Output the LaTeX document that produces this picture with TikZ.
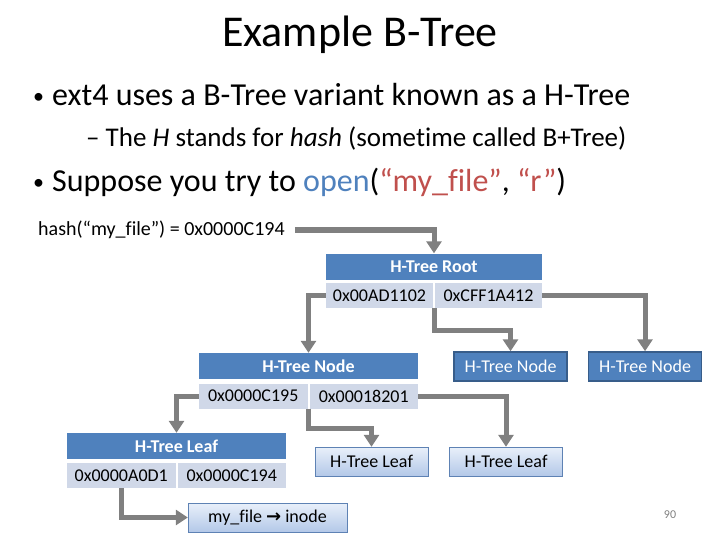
\documentclass[tikz,border=0pt]{standalone}
\usepackage{fontspec}
\setmainfont{Carlito}[Ligatures={NoCommon}]
\newfontfamily\symfont{DejaVu Sans}
\usepackage{xcolor}
\usepackage{tikz}
\usetikzlibrary{arrows.meta, positioning}

\definecolor{hblue}{HTML}{4F81BD}
\definecolor{nborder}{HTML}{385D8A}
\definecolor{cellgray}{HTML}{D0D8E8}
\definecolor{arrgray}{HTML}{808080}
\definecolor{ltop}{HTML}{E9F0FA}
\definecolor{lbot}{HTML}{B3C8E8}
\definecolor{lborder}{HTML}{5E82B4}
\definecolor{openblue}{HTML}{4F81BD}
\definecolor{strred}{HTML}{C0504D}

\newcommand{\dfont}{\fontsize{18}{21}\selectfont}
\newcommand{\bul}{\makebox[19pt][l]{\raisebox{2pt}{\fontsize{22}{24}\selectfont •}}}

\begin{document}
\begin{tikzpicture}[
      x=1pt, y=-1pt,
      hdr/.style={fill=hblue, text=white, font=\dfont\bfseries,
                  minimum height=26pt, inner sep=0pt},
      cell/.style={fill=cellgray, font=\dfont, minimum height=25pt,
                   inner sep=0pt},
      nbox/.style={draw=nborder, line width=1.5pt, fill=hblue, text=white,
                   font=\dfont, minimum width=113pt, minimum height=29pt,
                   inner sep=0pt},
      lbox/.style={draw=lborder, top color=ltop, bottom color=lbot,
                   font=\dfont, minimum width=113pt, minimum height=29pt,
                   inner sep=0pt},
      arr/.style={draw=arrgray, line width=5pt,
                  -{Triangle[length=12pt, width=15pt]}},
  ]
  \useasboundingbox (0,0) rectangle (720,540);

  %% Slide text
  \node[font=\fontsize{44}{48}\selectfont, anchor=base] (title) at (360,47) {Example B-Tree};
  \node[font=\fontsize{32}{36}\selectfont, anchor=base west, inner sep=0pt] (b1) at (33,106)
        {\bul ext4 uses a B-Tree variant known as a H-Tree};
  \node[font=\fontsize{27}{30}\selectfont, anchor=base west, inner sep=0pt] (b2) at (86,147)
        {– The \textit{H} stands for \textit{hash} (sometime called B+Tree)};
  \node[font=\fontsize{32}{36}\selectfont, anchor=base west, inner sep=0pt] (b3) at (33,192)
        {\bul Suppose you try to \textcolor{openblue}{open}(\textcolor{strred}{“my\_file”}, \textcolor{strred}{“r”})};
  \node[font=\fontsize{20}{23}\selectfont, anchor=west, inner sep=0pt] (hashtxt) at (38,230)
        {hash(“my\_file”) = 0x0000C194};

  %% Root
  \node[hdr, minimum width=216pt] (root) at (434,266.5) {H-Tree Root};
  \node[cell, minimum width=107pt] (r1) at (379.5,295.5) {0x00AD1102};
  \node[cell, minimum width=107pt] (r2) at (488.5,295.5) {0xCFF1A412};

  %% Second level
  \node[hdr, minimum width=219pt] (node) at (308.5,366) {H-Tree Node};
  \node[cell, minimum width=108.5pt] (n1) at (253.25,396) {0x0000C195};
  \node[cell, minimum width=108.5pt] (n2) at (363.75,396) {0x00018201};
  \node[nbox] (mnode) at (510.5,366.5) {H-Tree Node};
  \node[nbox] (rnode) at (645,366.5) {H-Tree Node};

  %% Leaves
  \node[hdr, minimum width=219pt] (leaf) at (176.5,446) {H-Tree Leaf};
  \node[cell, minimum width=108.5pt] (l1) at (121.25,475.5) {0x0000A0D1};
  \node[cell, minimum width=108.5pt] (l2) at (231.75,475.5) {0x0000C194};
  \node[lbox] (leaf2) at (371.5,461.5) {H-Tree Leaf};
  \node[lbox] (leaf3) at (506,461.5) {H-Tree Leaf};
  \node[lbox, minimum width=159pt] (inode) at (267.5,517.5)
        {my\_file {\symfont\bfseries →} inode};

  \node[font=\fontsize{12}{14}\selectfont, text=gray] (pnum) at (670,515) {90};

  %% Arrows
  \draw[arr, shorten <=10pt] (hashtxt.east) -| (root.north);
  \draw[arr] (r1.west) -| (node.north);
  \draw[arr] ([xshift=1pt]r1.south east) -- ++(0,22) -| (mnode.north);
  \draw[arr] (r2.east) -| (rnode.north);
  \draw[arr] (n1.west) -| (leaf.north);
  \draw[arr] ([xshift=1pt]n1.south east) -- ++(0,20) -| (leaf2.north);
  \draw[arr] (n2.east) -| (leaf3.north);
  \draw[arr] (l1.south) |- (inode.west);

\end{tikzpicture}
\end{document}
